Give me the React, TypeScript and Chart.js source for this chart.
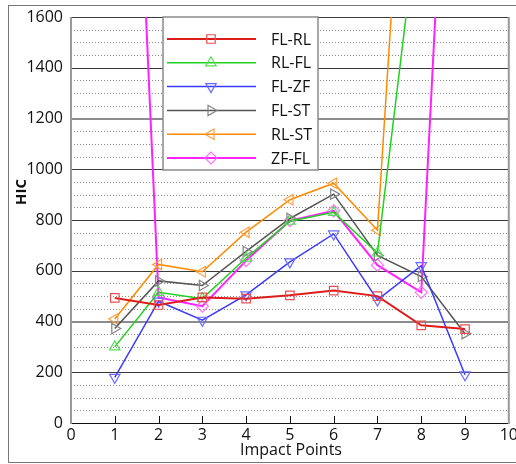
import React, { useEffect, useRef } from 'react';
import { Chart, registerables } from 'chart.js';
import { drawPoint } from 'chart.js/helpers';

Chart.register(...registerables);

const impactPoints = [1, 2, 3, 4, 5, 6, 7, 8, 9];
const seriesNames = ['FL-RL', 'RL-FL', 'FL-ZF', 'FL-ST', 'RL-ST', 'ZF-FL'];
const flRl = [493, 465, 495, 490, 503, 522, 500, 385, 370];
const rlFl = [300, 515, 490, 650, 795, 830, 670, 2100];
const flZf = [180, 480, 405, 505, 635, 745, 485, 620, 190];
const flSt = [372, 560, 542, 676, 806, 902, 660, 577, 352];
const rlSt = [410, 625, 596, 752, 880, 945, 760, 3450];
const zfFl = [4350, 495, 460, 640, 797, 836, 622, 515, 3900];
const xTickValues = [0, 1, 2, 3, 4, 5, 6, 7, 8, 9, 10];
const yTickValues = [0, 200, 400, 600, 800, 1000, 1200, 1400, 1600];

const lineColors = ['#dd1c1c', '#1ed21e', '#3a3aff', '#555555', '#ff8a00', '#ff22ff'];
const markerColors = ['#e65050', '#55dd55', '#6a6aff', '#858585', '#ffa040', '#ff70ff'];
const markerStyles = ['rect', 'triangle', 'triangle', 'triangle', 'triangle', 'rectRot'];
const markerRotations = [0, 0, 180, 90, 270, 0];
const allSeries = [flRl, rlFl, flZf, flSt, rlSt, zfFl];

const FONT = '"Open Sans", sans-serif';

const framePlugin = {
  id: 'frame',
  beforeDatasetsDraw(chart: any) {
    const { ctx, chartArea } = chart;
    const y = chart.scales.y;
    const x = chart.scales.x;
    const { left, right, top, bottom } = chartArea;
    ctx.save();
    ctx.strokeStyle = '#8a8a8a';
    ctx.lineWidth = 1;
    ctx.setLineDash([1, 2]);
    for (let v = 50; v < 1600; v += 50) {
      if (v % 200 === 0) continue;
      const py = Math.round(y.getPixelForValue(v)) + 0.5;
      ctx.beginPath();
      ctx.moveTo(left, py);
      ctx.lineTo(right, py);
      ctx.stroke();
    }
    ctx.setLineDash([]);
    for (const v of yTickValues) {
      const py = Math.round(y.getPixelForValue(v));
      if (v === 400 || v === 1200) {
        ctx.strokeStyle = '#8c8c8c';
        ctx.lineWidth = 2;
        ctx.beginPath();
        ctx.moveTo(left, py);
        ctx.lineTo(right, py);
        ctx.stroke();
      } else {
        ctx.strokeStyle = v === 0 ? '#111' : '#3a3a3a';
        ctx.lineWidth = 1;
        ctx.beginPath();
        ctx.moveTo(left, py + 0.5);
        ctx.lineTo(right, py + 0.5);
        ctx.stroke();
      }
    }
    ctx.strokeStyle = '#999';
    ctx.lineWidth = 2;
    ctx.beginPath();
    ctx.moveTo(left, top);
    ctx.lineTo(left, bottom + 1);
    ctx.moveTo(right, top);
    ctx.lineTo(right, bottom + 1);
    ctx.stroke();
    ctx.strokeStyle = '#111';
    ctx.lineWidth = 1;
    for (const v of xTickValues) {
      if (v === 0 || v === 10) continue;
      const px = Math.round(x.getPixelForValue(v)) + 0.5;
      ctx.beginPath();
      ctx.moveTo(px, bottom);
      ctx.lineTo(px, bottom - 7);
      ctx.stroke();
    }
    ctx.restore();
  },
  afterDatasetsDraw(chart: any) {
    const { ctx } = chart;
    ctx.save();
    const bx = 163, by = 17, bw = 155, bh = 153;
    ctx.fillStyle = '#fff';
    ctx.fillRect(bx, by, bw, bh);
    ctx.strokeStyle = '#8a8a8a';
    ctx.lineWidth = 1.5;
    ctx.strokeRect(bx, by, bw, bh);
    ctx.font = '16px ' + FONT;
    ctx.textBaseline = 'middle';
    ctx.textAlign = 'left';
    seriesNames.forEach((name, i) => {
      const ry = 39 + i * 23.8;
      ctx.strokeStyle = lineColors[i];
      ctx.lineWidth = i === 5 || i === 0 ? 2 : 1.5;
      ctx.beginPath();
      ctx.moveTo(167, ry);
      ctx.lineTo(256, ry);
      ctx.stroke();
      ctx.strokeStyle = markerColors[i];
      ctx.fillStyle = 'transparent';
      ctx.lineWidth = 1.2;
      drawPoint(ctx, {
        pointStyle: markerStyles[i],
        radius: 6,
        rotation: markerRotations[i],
        borderWidth: 1.2,
      } as any, 211, ry);
      ctx.fillStyle = '#111';
      ctx.fillText(name, 271, ry + 1);
    });
    ctx.restore();
  },
  afterDraw(chart: any) {
    const { ctx } = chart;
    ctx.save();
    ctx.fillStyle = '#111';
    ctx.font = '16px ' + FONT;
    ctx.textAlign = 'center';
    ctx.textBaseline = 'alphabetic';
    ctx.fillText('Impact Points', 291, 455);
    ctx.translate(22, 192);
    ctx.rotate(-Math.PI / 2);
    ctx.font = 'bold 15px ' + FONT;
    ctx.textBaseline = 'middle';
    ctx.fillText('HIC', 0, 0);
    ctx.restore();
    ctx.save();
    ctx.strokeStyle = '#777';
    ctx.lineWidth = 1;
    ctx.strokeRect(8.5, 5.5, 520, 457);
    ctx.restore();
  },
};

export default function App() {
  const ref = useRef<HTMLCanvasElement>(null);
  useEffect(() => {
    if (!ref.current) return;
    const chart = new Chart(ref.current, {
      type: 'line',
      data: {
        datasets: seriesNames.map((name, i) => ({
          label: name,
          data: allSeries[i].map((v, j) => ({ x: impactPoints[j], y: v })),
          borderColor: lineColors[i],
          borderWidth: i === 5 || i === 0 ? 2 : 1.5,
          backgroundColor: 'transparent',
          pointBackgroundColor: 'transparent',
          pointBorderColor: markerColors[i],
          pointBorderWidth: 1.2,
          pointRadius: 6,
          pointStyle: markerStyles[i] as any,
          pointRotation: markerRotations[i],
          tension: 0,
          fill: false,
        })),
      },
      options: {
        animation: false,
        responsive: false,
        maintainAspectRatio: false,
        events: [],
        layout: { padding: { top: 17, right: 5, left: 0, bottom: 0 } },
        plugins: { legend: { display: false }, tooltip: { enabled: false } },
        scales: {
          x: {
            type: 'linear',
            min: 0,
            max: 10,
            grid: { display: false, drawTicks: false },
            border: { display: false },
            ticks: {
              stepSize: 1,
              padding: 3,
              color: '#111',
              font: { family: FONT, size: 16 },
              maxRotation: 0,
              autoSkip: false,
              callback: (v: any) => String(v),
            },
            afterBuildTicks: (s: any) => {
              s.ticks = xTickValues.map((v) => ({ value: v }));
            },
            afterFit: (s: any) => {
              s.height = 41;
              s.paddingLeft = 0;
              s.paddingRight = 0;
            },
          },
          y: {
            type: 'linear',
            min: 0,
            max: 1600,
            grid: { display: false, drawTicks: false },
            border: { display: false },
            ticks: {
              padding: 8,
              color: '#111',
              font: { family: FONT, size: 16 },
              autoSkip: false,
              callback: (v: any) => String(v),
            },
            afterBuildTicks: (s: any) => {
              s.ticks = yTickValues.map((v) => ({ value: v }));
            },
            afterFit: (s: any) => {
              s.width = 71;
              s.paddingTop = 0;
              s.paddingBottom = 0;
            },
          },
        },
      },
      plugins: [framePlugin],
    });
    return () => chart.destroy();
  }, []);
  return (
    <canvas
      ref={ref}
      width={516}
      height={464}
      style={{ position: 'fixed', left: 0, top: 0, width: 516, height: 464 }}
    />
  );
}
